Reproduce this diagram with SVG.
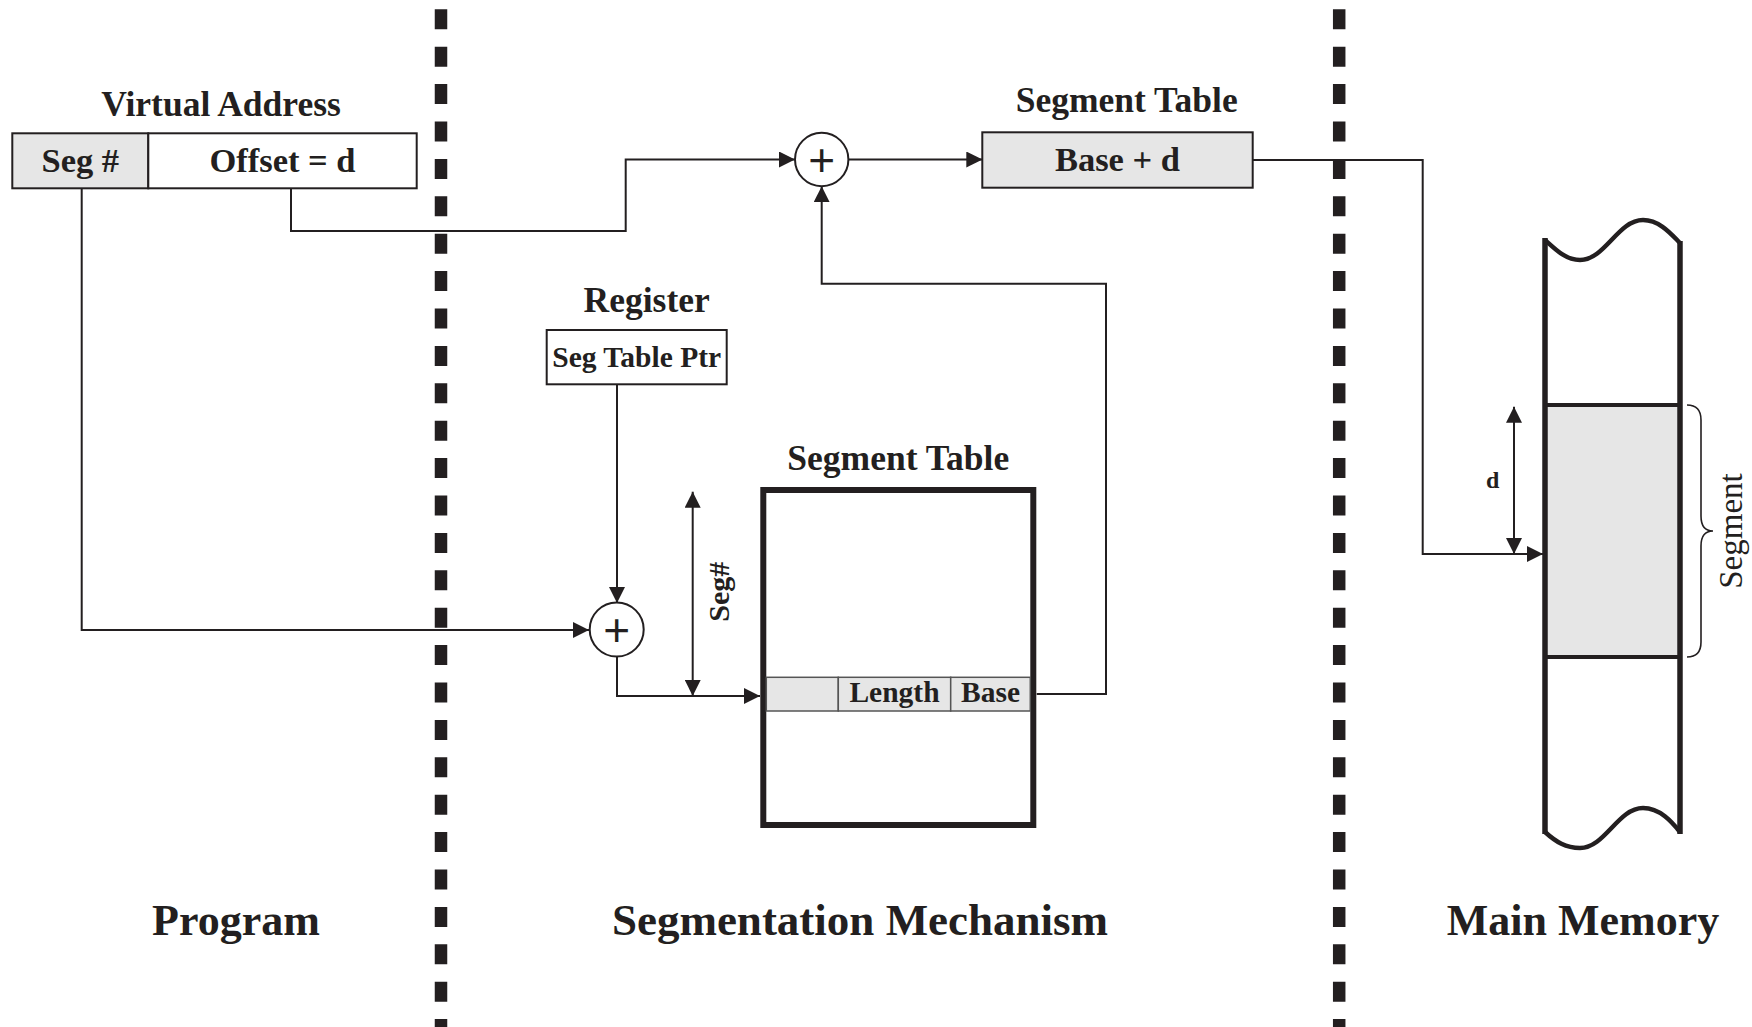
<svg xmlns="http://www.w3.org/2000/svg" width="1752" height="1027" viewBox="0 0 1752 1027">
<style>
text{font-family:"Liberation Serif","Times New Roman",serif;font-weight:bold;fill:#231f20;text-anchor:middle}
.h{font-size:35.5px}
.b{font-size:34.5px}
.s{font-size:29.5px}
.big{font-size:45px}
.box{fill:#fff;stroke:#231f20;stroke-width:2}
.gray{fill:#e6e6e6;stroke:#231f20;stroke-width:2}
.cell{fill:#e6e6e6;stroke:#555;stroke-width:1.5}
.con{fill:none;stroke:#231f20;stroke-width:2}
.sep{stroke:#231f20;stroke-width:12.5;stroke-dasharray:20 17.4}
.plus{font-family:"Liberation Sans",Arial,sans-serif;font-weight:normal;font-size:46px}
</style>
<defs>
<marker id="ah" markerUnits="userSpaceOnUse" markerWidth="16" markerHeight="16" refX="16" refY="8" orient="auto-start-reverse" viewBox="0 0 16 16">
<path d="M0,0 L16,8 L0,16 z" fill="#231f20"/>
</marker>
</defs>
<rect width="1752" height="1027" fill="#fff"/>

<g id="separators">
<line class="sep" x1="441" y1="9.3" x2="441" y2="1027"/>
<line class="sep" x1="1339.2" y1="9.3" x2="1339.2" y2="1027"/>
</g>

<g id="connectors">
<path class="con" d="M81.7,188.3 V630 H589" marker-end="url(#ah)"/>
<path class="con" d="M291,188.3 V231 H625.7 V159.5 H795" marker-end="url(#ah)"/>
<path class="con" d="M848.3,159.5 H982.3" marker-end="url(#ah)"/>
<path class="con" d="M617,384.3 V603" marker-end="url(#ah)"/>
<path class="con" d="M617,656 V696 H760" marker-end="url(#ah)"/>
<path class="con" d="M692.7,491.7 V696" marker-start="url(#ah)" marker-end="url(#ah)"/>
<path class="con" d="M1036.7,694 H1106 V283.8 H821.7 V186.2" marker-end="url(#ah)"/>
<path class="con" d="M1252.7,160 H1422.7 V554 H1543" marker-end="url(#ah)"/>
<path class="con" d="M1514,406.7 V554" marker-start="url(#ah)" marker-end="url(#ah)"/>
</g>

<g id="virtual-address">
<text class="h" x="221" y="116">Virtual Address</text>
<rect class="gray" x="12.3" y="133.3" width="136" height="55"/>
<rect class="box" x="148.3" y="133.3" width="268.4" height="55"/>
<text class="b" x="80.3" y="171.7">Seg #</text>
<text class="b" x="282.5" y="171.7">Offset = d</text>
</g>

<g id="adder-top">
<circle cx="821.7" cy="159.5" r="26.7" fill="#fff" stroke="#231f20" stroke-width="2"/>
<text class="plus" x="821.7" y="175.5">+</text>
</g>

<g id="segment-table-entry">
<text class="h" x="1126.7" y="111.7">Segment Table</text>
<rect class="gray" x="982.3" y="132.3" width="270.4" height="55.4"/>
<text class="b" x="1117.5" y="170.7">Base + d</text>
</g>

<g id="register">
<text class="h" x="646.7" y="311.7">Register</text>
<rect class="box" x="546.7" y="330" width="180" height="54.3"/>
<text class="s" x="636.7" y="367.3">Seg Table Ptr</text>
</g>

<g id="adder-bottom">
<circle cx="616.7" cy="629.5" r="27" fill="#fff" stroke="#231f20" stroke-width="2"/>
<text class="plus" x="616.7" y="645.5">+</text>
</g>

<g id="seg-dim-label">
<text transform="translate(729,591.7) rotate(-90)" style="font-size:30px">Seg#</text>
</g>

<g id="segment-table">
<text class="h" x="898.3" y="470">Segment Table</text>
<rect x="763.3" y="490" width="270" height="335" fill="#fff" stroke="#231f20" stroke-width="6"/>
<rect class="cell" x="766.3" y="677.3" width="72" height="33.7"/>
<rect class="cell" x="838.3" y="677.3" width="112.4" height="33.7"/>
<rect class="cell" x="950.7" y="677.3" width="79.6" height="33.7"/>
<text class="s" x="894.5" y="701.7">Length</text>
<text class="s" x="990.5" y="701.7">Base</text>
</g>

<g id="main-memory">
<rect x="1545" y="405" width="135" height="252" fill="#e6e6e6"/>
<path d="M1545,240 C1556,250 1566,260 1580,260 C1605,260 1618,220 1643,220 C1660,220 1672,235 1680,243" fill="none" stroke="#231f20" stroke-width="4.5"/>
<path d="M1545,832 C1556,842 1566,848 1580,848 C1605,848 1618,808 1643,808 C1660,808 1672,822 1680,832" fill="none" stroke="#231f20" stroke-width="4.5"/>
<line x1="1545" y1="238" x2="1545" y2="834" stroke="#231f20" stroke-width="5.5"/>
<line x1="1680" y1="241" x2="1680" y2="834" stroke="#231f20" stroke-width="5.5"/>
<line x1="1545" y1="405" x2="1680" y2="405" stroke="#231f20" stroke-width="4"/>
<line x1="1545" y1="657" x2="1680" y2="657" stroke="#231f20" stroke-width="4"/>
<path d="M1687,405 Q1701,405 1701,420 L1701,516 Q1701,531 1713,531 Q1701,531 1701,546 L1701,642 Q1701,657 1687,657" fill="none" stroke="#231f20" stroke-width="1.6"/>
<text transform="translate(1742,531) rotate(-90)" style="font-size:33px;font-weight:normal">Segment</text>
<text x="1492.7" y="488" style="font-size:24px">d</text>
</g>

<g id="labels">
<text class="big" x="236" y="935" style="font-size:44px">Program</text>
<text class="big" x="860" y="935">Segmentation Mechanism</text>
<text class="big" x="1583" y="935" style="font-size:44px">Main Memory</text>
</g>
</svg>
